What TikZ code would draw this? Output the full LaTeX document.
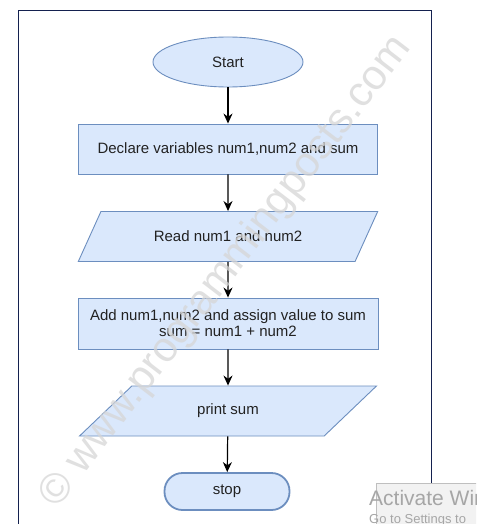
\documentclass[tikz,border=0pt]{standalone}
\usepackage{fontspec}
\setmainfont{Liberation Sans}
\usetikzlibrary{shapes.geometric,arrows.meta}
\definecolor{boxfill}{HTML}{DAE8FC}
\definecolor{boxline}{HTML}{6C8EBF}
\definecolor{framecol}{HTML}{14214F}
\definecolor{txt}{HTML}{222222}
\tikzset{
  base/.style={fill=boxfill, draw=boxline, line width=0.9pt, text=txt, font=\fontsize{15}{17}\selectfont, align=center, inner sep=0pt},
  termbox/.style={base, ellipse, minimum width=150pt, minimum height=50pt},
  procbox/.style={base, rectangle, minimum width=299pt, minimum height=50pt},
  iobox/.style={base, trapezium, trapezium left angle=39.8, trapezium right angle=140.2, trapezium stretches=true, minimum width=300pt, minimum height=50pt},
  endbox/.style={base, rectangle, rounded corners=18pt, line width=1.8pt, minimum width=125pt, minimum height=37pt},
  flow/.style={-{Stealth[length=10pt,width=9pt]}, line width=1.2pt, black},
  wmtext/.style={rotate=52.5, text=black!16, font=\fontsize{42}{42}\selectfont, inner sep=0pt},
  systext/.style={anchor=base west, text=black!35, inner sep=0pt},
}
\begin{document}
\begin{tikzpicture}[x=1pt,y=-1pt]
\useasboundingbox (0,0) rectangle (476,524);
\clip (0,0) rectangle (476,524);
\fill[white] (0,0) rectangle (476,524);
% frame
\draw[framecol, line width=1.4pt] (18.5,530) -- (18.5,10.5) -- (431.5,10.5) -- (431.5,484);
% nodes
\node[termbox] (start) at (228,62) {Start};
\node[procbox] (decl) at (228,149) {Declare variables num1,num2 and sum};
\node[iobox] (read) at (228,236.5) {Read num1 and num2};
\node[procbox, minimum width=300pt, minimum height=51pt] (add) at (228,323.5) {Add num1,num2 and assign value to sum\\[-1pt]sum = num1 + num2};
\node[iobox] (print) at (228,411) {print sum};
\node[endbox] (stop) at (227,491.5) {stop};
% connectors
\draw[flow] (start) -- (decl);
\draw[flow] (decl) -- (read);
\draw[flow] (read) -- (add);
\draw[flow] (add) -- (print);
\draw[flow] (print) -- (stop);
% watermark
\node[wmtext, opacity=0.75] (wm) at (226,272) {© www.programmingposts.com};
% system overlay
\draw[fill=black!5, draw=black!25, line width=0.8pt] (376,483.5) rectangle (480,530);
\node[systext, font=\fontsize{21}{21}\selectfont] (act) at (369,505) {Activate Windows};
\node[systext, font=\fontsize{13}{13}\selectfont] (goto) at (369,523) {Go to Settings to};
\end{tikzpicture}
\end{document}
